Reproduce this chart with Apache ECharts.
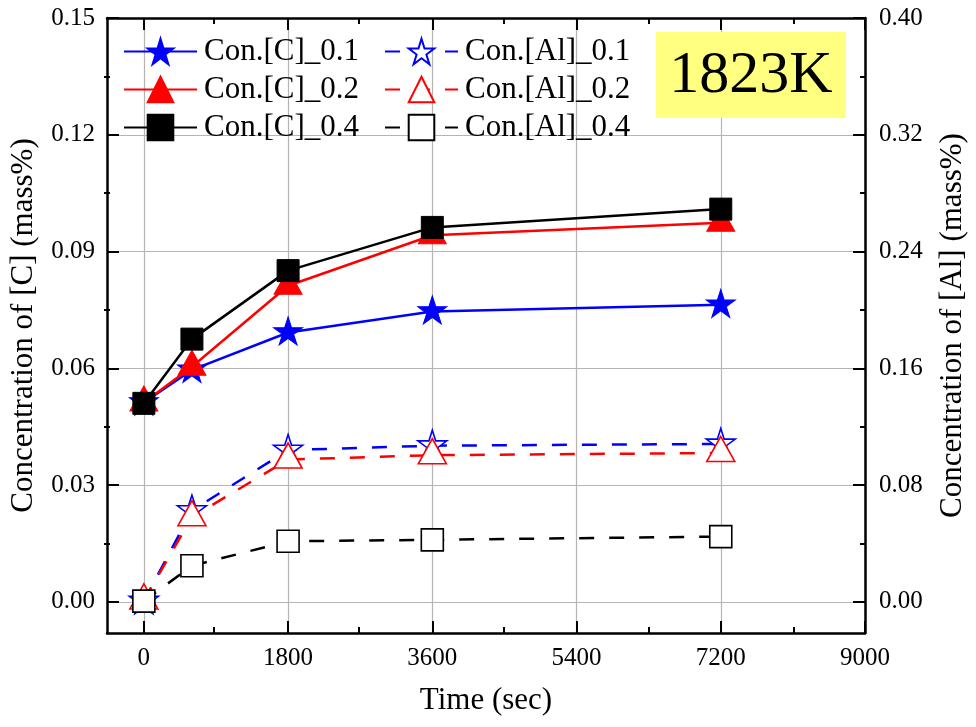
<!DOCTYPE html>
<html><head><meta charset="utf-8">
<script src="https://cdn.jsdelivr.net/npm/echarts@6/dist/echarts.min.js"></script>
<style>html,body{margin:0;padding:0;background:#fff}#c{width:976px;height:727px}</style>
</head><body><div id="c"></div>
<script>
// ---- data ----
const times = [0, 600, 1800, 3600, 7200];
const c01 = [0.0512, 0.0596, 0.0692, 0.0746, 0.0763];
const c02 = [0.0512, 0.0604, 0.0812, 0.0942, 0.0974];
const c04 = [0.0510, 0.0675, 0.0851, 0.0962, 0.1009];
const al01 = [0.0005, 0.0625, 0.1040, 0.1070, 0.1082];
const al02 = [0.0010, 0.0580, 0.0975, 0.1005, 0.1020];
const al04 = [0.0005, 0.0247, 0.0415, 0.0425, 0.0447];
const names = ['Con.[C]_0.1','Con.[C]_0.2','Con.[C]_0.4','Con.[Al]_0.1','Con.[Al]_0.2','Con.[Al]_0.4'];
const xMajor = [0, 1800, 3600, 5400, 7200, 9000];
const xMinor = [900, 2700, 4500, 6300, 8100];
const yLMajor = [0, 0.03, 0.06, 0.09, 0.12, 0.15];
const yLMinor = [0.015, 0.045, 0.075, 0.105, 0.135];
const yRMajor = [0, 0.08, 0.16, 0.24, 0.32, 0.40];
const yRMinor = [0.04, 0.12, 0.20, 0.28, 0.36];

// star symbol path (outer radius 1, inner 0.382)
function starPath(){
  let d = '';
  for (let i = 0; i < 10; i++) {
    const r = i % 2 === 0 ? 100 : 38.2;
    const a = -Math.PI/2 + i * Math.PI/5;
    d += (i === 0 ? 'M' : 'L') + (r*Math.cos(a)).toFixed(2) + ' ' + (r*Math.sin(a)).toFixed(2) + ' ';
  }
  return 'path://' + d + 'Z';
}
const STAR = starPath();
const FONT = '"Liberation Serif", "Times New Roman", serif';
const BLUE = '#0000ff', RED = '#ff0000', BLACK = '#000000';

function pts(arr){ return times.map((t,i)=>[t, arr[i]]); }

function cSeries(name, arr, color, symbol, size, offset){
  return { name, type:'line', xAxisIndex:0, yAxisIndex:0, data:pts(arr),
    symbol, symbolSize:size, symbolOffset:offset, showAllSymbol:true,
    lineStyle:{color, width:2.5}, itemStyle:{color, borderColor:color, borderWidth:1}, color, z:5 };
}
function aSeries(name, arr, color, symbol, size, offset){
  return { name, type:'line', xAxisIndex:0, yAxisIndex:1, data:pts(arr),
    symbol, symbolSize:size, symbolOffset:offset, showAllSymbol:true,
    lineStyle:{color, width:2.5, type:[15,15]}, itemStyle:{color:'#ffffff', borderColor:color, borderWidth:1.6}, color, z:4 };
}

const axisLine = {show:true, onZero:false, lineStyle:{color:'#000', width:2.5}};
const noLine = {show:false, onZero:false};
const labelStyle = {color:'#000', fontFamily:FONT, fontSize:25};
const nameStyle = {color:'#000', fontFamily:FONT, fontSize:31};
const grid = {left:104, right:110, top:18, bottom:94, containLabel:false};
const MAJ = 12, MIN = 6;

const chart = echarts.init(document.getElementById('c'), null, {renderer:'canvas'});
chart.setOption({
  animation:false,
  backgroundColor:'#fff',
  grid:[Object.assign({}, grid), Object.assign({}, grid)],
  xAxis:[
    {type:'value', gridIndex:0, position:'bottom', min:-460, max:9000,
     axisLine, axisTick:{show:true, inside:true, length:MAJ, customValues:xMajor, lineStyle:{color:'#000', width:2}},
     axisLabel:Object.assign({customValues:xMajor, margin:13, formatter:v=>String(v)}, labelStyle),
     splitLine:{show:true, lineStyle:{color:'#b4b4b4', width:1.2}},
     name:'Time (sec)', nameLocation:'middle', nameGap:52, nameTextStyle:nameStyle},
    {type:'value', gridIndex:0, position:'top', min:-460, max:9000,
     axisLine, axisTick:{show:true, inside:true, length:MAJ, customValues:xMajor, lineStyle:{color:'#000', width:2}},
     axisLabel:{show:false}, splitLine:{show:false}},
    {type:'value', gridIndex:1, position:'bottom', min:-460, max:9000,
     axisLine:noLine, axisTick:{show:true, inside:true, length:MIN, customValues:xMinor, lineStyle:{color:'#000', width:2}},
     axisLabel:{show:false}, splitLine:{show:false}},
    {type:'value', gridIndex:1, position:'top', min:-460, max:9000,
     axisLine:noLine, axisTick:{show:true, inside:true, length:MIN, customValues:xMinor, lineStyle:{color:'#000', width:2}},
     axisLabel:{show:false}, splitLine:{show:false}}
  ],
  yAxis:[
    {type:'value', gridIndex:0, position:'left', min:-0.008, max:0.15,
     axisLine, axisTick:{show:true, inside:true, length:MAJ, customValues:yLMajor, lineStyle:{color:'#000', width:2}},
     axisLabel:Object.assign({customValues:yLMajor, margin:12, formatter:v=>v.toFixed(2)}, labelStyle),
     splitLine:{show:true, lineStyle:{color:'#b4b4b4', width:1.2}},
     name:'Concentration of [C] (mass%)', nameLocation:'middle', nameGap:68, nameTextStyle:nameStyle},
    {type:'value', gridIndex:0, position:'right', min:-0.02133, max:0.40,
     axisLine, axisTick:{show:true, inside:true, length:MAJ, customValues:yRMajor, lineStyle:{color:'#000', width:2}},
     axisLabel:Object.assign({customValues:yRMajor, margin:14, formatter:v=>v.toFixed(2)}, labelStyle),
     splitLine:{show:false},
     name:'Concentration of [Al] (mass%)', nameLocation:'middle', nameGap:72, nameTextStyle:nameStyle},
    {type:'value', gridIndex:1, position:'left', min:-0.008, max:0.15,
     axisLine:noLine, axisTick:{show:true, inside:true, length:MIN, customValues:yLMinor, lineStyle:{color:'#000', width:2}},
     axisLabel:{show:false}, splitLine:{show:false}},
    {type:'value', gridIndex:1, position:'right', min:-0.02133, max:0.40,
     axisLine:noLine, axisTick:{show:true, inside:true, length:MIN, customValues:yRMinor, lineStyle:{color:'#000', width:2}},
     axisLabel:{show:false}, splitLine:{show:false}}
  ],
  legend:[
    {orient:'vertical', left:123, top:36, padding:0, itemWidth:73, itemHeight:32, itemGap:7, textStyle:{color:'#000', fontFamily:FONT, fontSize:31, padding:[0,0,0,2]},
     data:names.slice(0,3)},
    {orient:'vertical', left:384, top:36, padding:0, itemWidth:73, itemHeight:32, itemGap:7, textStyle:{color:'#000', fontFamily:FONT, fontSize:31, padding:[0,0,0,2]},
     data:names.slice(3)}
  ],
  graphic:[
    {type:'rect', z:100, shape:{x:656, y:32, width:190, height:86}, style:{fill:'#ffff80'}},
    {type:'text', z:101, x:751, y:76, style:{text:'1823K', fontSize:60, fontFamily:FONT, fill:'#000', align:'center', verticalAlign:'middle'}}
  ],
  series:[
    cSeries(names[0], c01, BLUE, STAR, [29,28], [0,-1.5]),
    cSeries(names[1], c02, RED, 'triangle', [28,25], [0,-4]),
    cSeries(names[2], c04, BLACK, 'rect', 22, [0,0]),
    aSeries(names[3], al01, BLUE, STAR, [29,28], [0,-1.5]),
    aSeries(names[4], al02, RED, 'triangle', [28,25], [0,-4]),
    aSeries(names[5], al04, BLACK, 'rect', 22, [0,0])
  ]
});
</script></body></html>
